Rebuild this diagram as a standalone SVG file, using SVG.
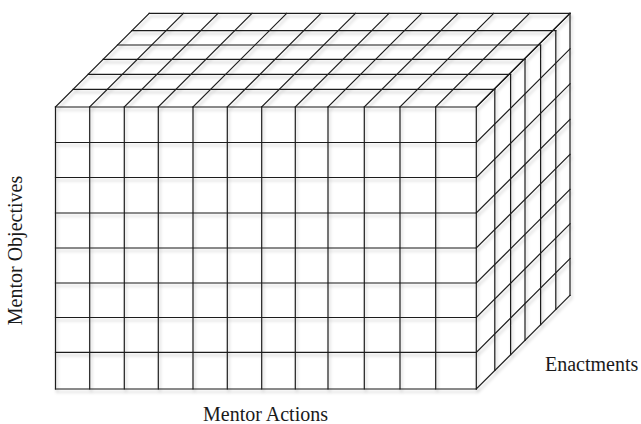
<svg xmlns="http://www.w3.org/2000/svg" width="641" height="424" viewBox="0 0 641 424">
  <defs>
    <filter id="sh" x="-5%" y="-5%" width="110%" height="110%">
      <feDropShadow dx="1.5" dy="3" stdDeviation="1.5" flood-color="#000" flood-opacity="0.22"/>
    </filter>
  </defs>
  <style>
    .ln { fill: none; stroke: #1c1c1c; stroke-width: 1.2; stroke-linecap: square; }
    .lbl { font-family: "Liberation Serif", "Times New Roman", serif; font-size: 20px; fill: #1a1a1a; }
  </style>
  <rect width="641" height="424" fill="#fff"/>
  <g id="cube" filter="url(#sh)">
    <g id="front-face" class="ln">
      <path d="M55.5 107V389M89.7 107V389M124.3 107V389M158.3 107V389M193 107V389M227.3 107V389M261.7 107V389M295.3 107V389M328 107V389M364.3 107V389M400 107V389M435.7 107V389M476.3 107V389"/>
      <path d="M55.5 107H476.3M55.5 142.5H476.3M55.5 177.5H476.3M55.5 213H476.3M55.5 248H476.3M55.5 283H476.3M55.5 317.5H476.3M55.5 352.3H476.3M55.5 389H476.3"/>
    </g>
    <g id="top-face" class="ln">
      <path d="M55.5 107L149.2 13.3M89.7 107L183.4 13.3M124.3 107L218 13.3M158.3 107L252 13.3M193 107L286.7 13.3M227.3 107L321 13.3M261.7 107L355.4 13.3M295.3 107L389 13.3M328 107L421.7 13.3M364.3 107L458 13.3M400 107L493.7 13.3M435.7 107L529.4 13.3M476.3 107L570 13.3"/>
      <path d="M73.2 89.3H494.8M88.2 74.3H510.6M103.2 59.3H525M117.5 45H540.6M131.8 30.7H555.8M149.2 13.3H570"/>
    </g>
    <g id="right-face" class="ln">
      <path d="M494.8 89.3V370.5M510.6 74.3V354.7M525 59.3V340.3M540.6 45V324.7M555.8 30.7V309.5M570 13.3V295.3"/>
      <path d="M476.3 107L570 13.3M476.3 142.5L570 48.8M476.3 177.5L570 83.8M476.3 213L570 119.3M476.3 248L570 154.3M476.3 283L570 189.3M476.3 317.5L570 223.8M476.3 352.3L570 258.6M476.3 389L570 295.3"/>
    </g>
  </g>
  <g id="labels">
    <text class="lbl" x="203" y="421">Mentor Actions</text>
    <text class="lbl" x="545" y="371">Enactments</text>
    <text class="lbl" text-anchor="middle" transform="translate(22 250.5) rotate(-90)">Mentor Objectives</text>
  </g>
</svg>
